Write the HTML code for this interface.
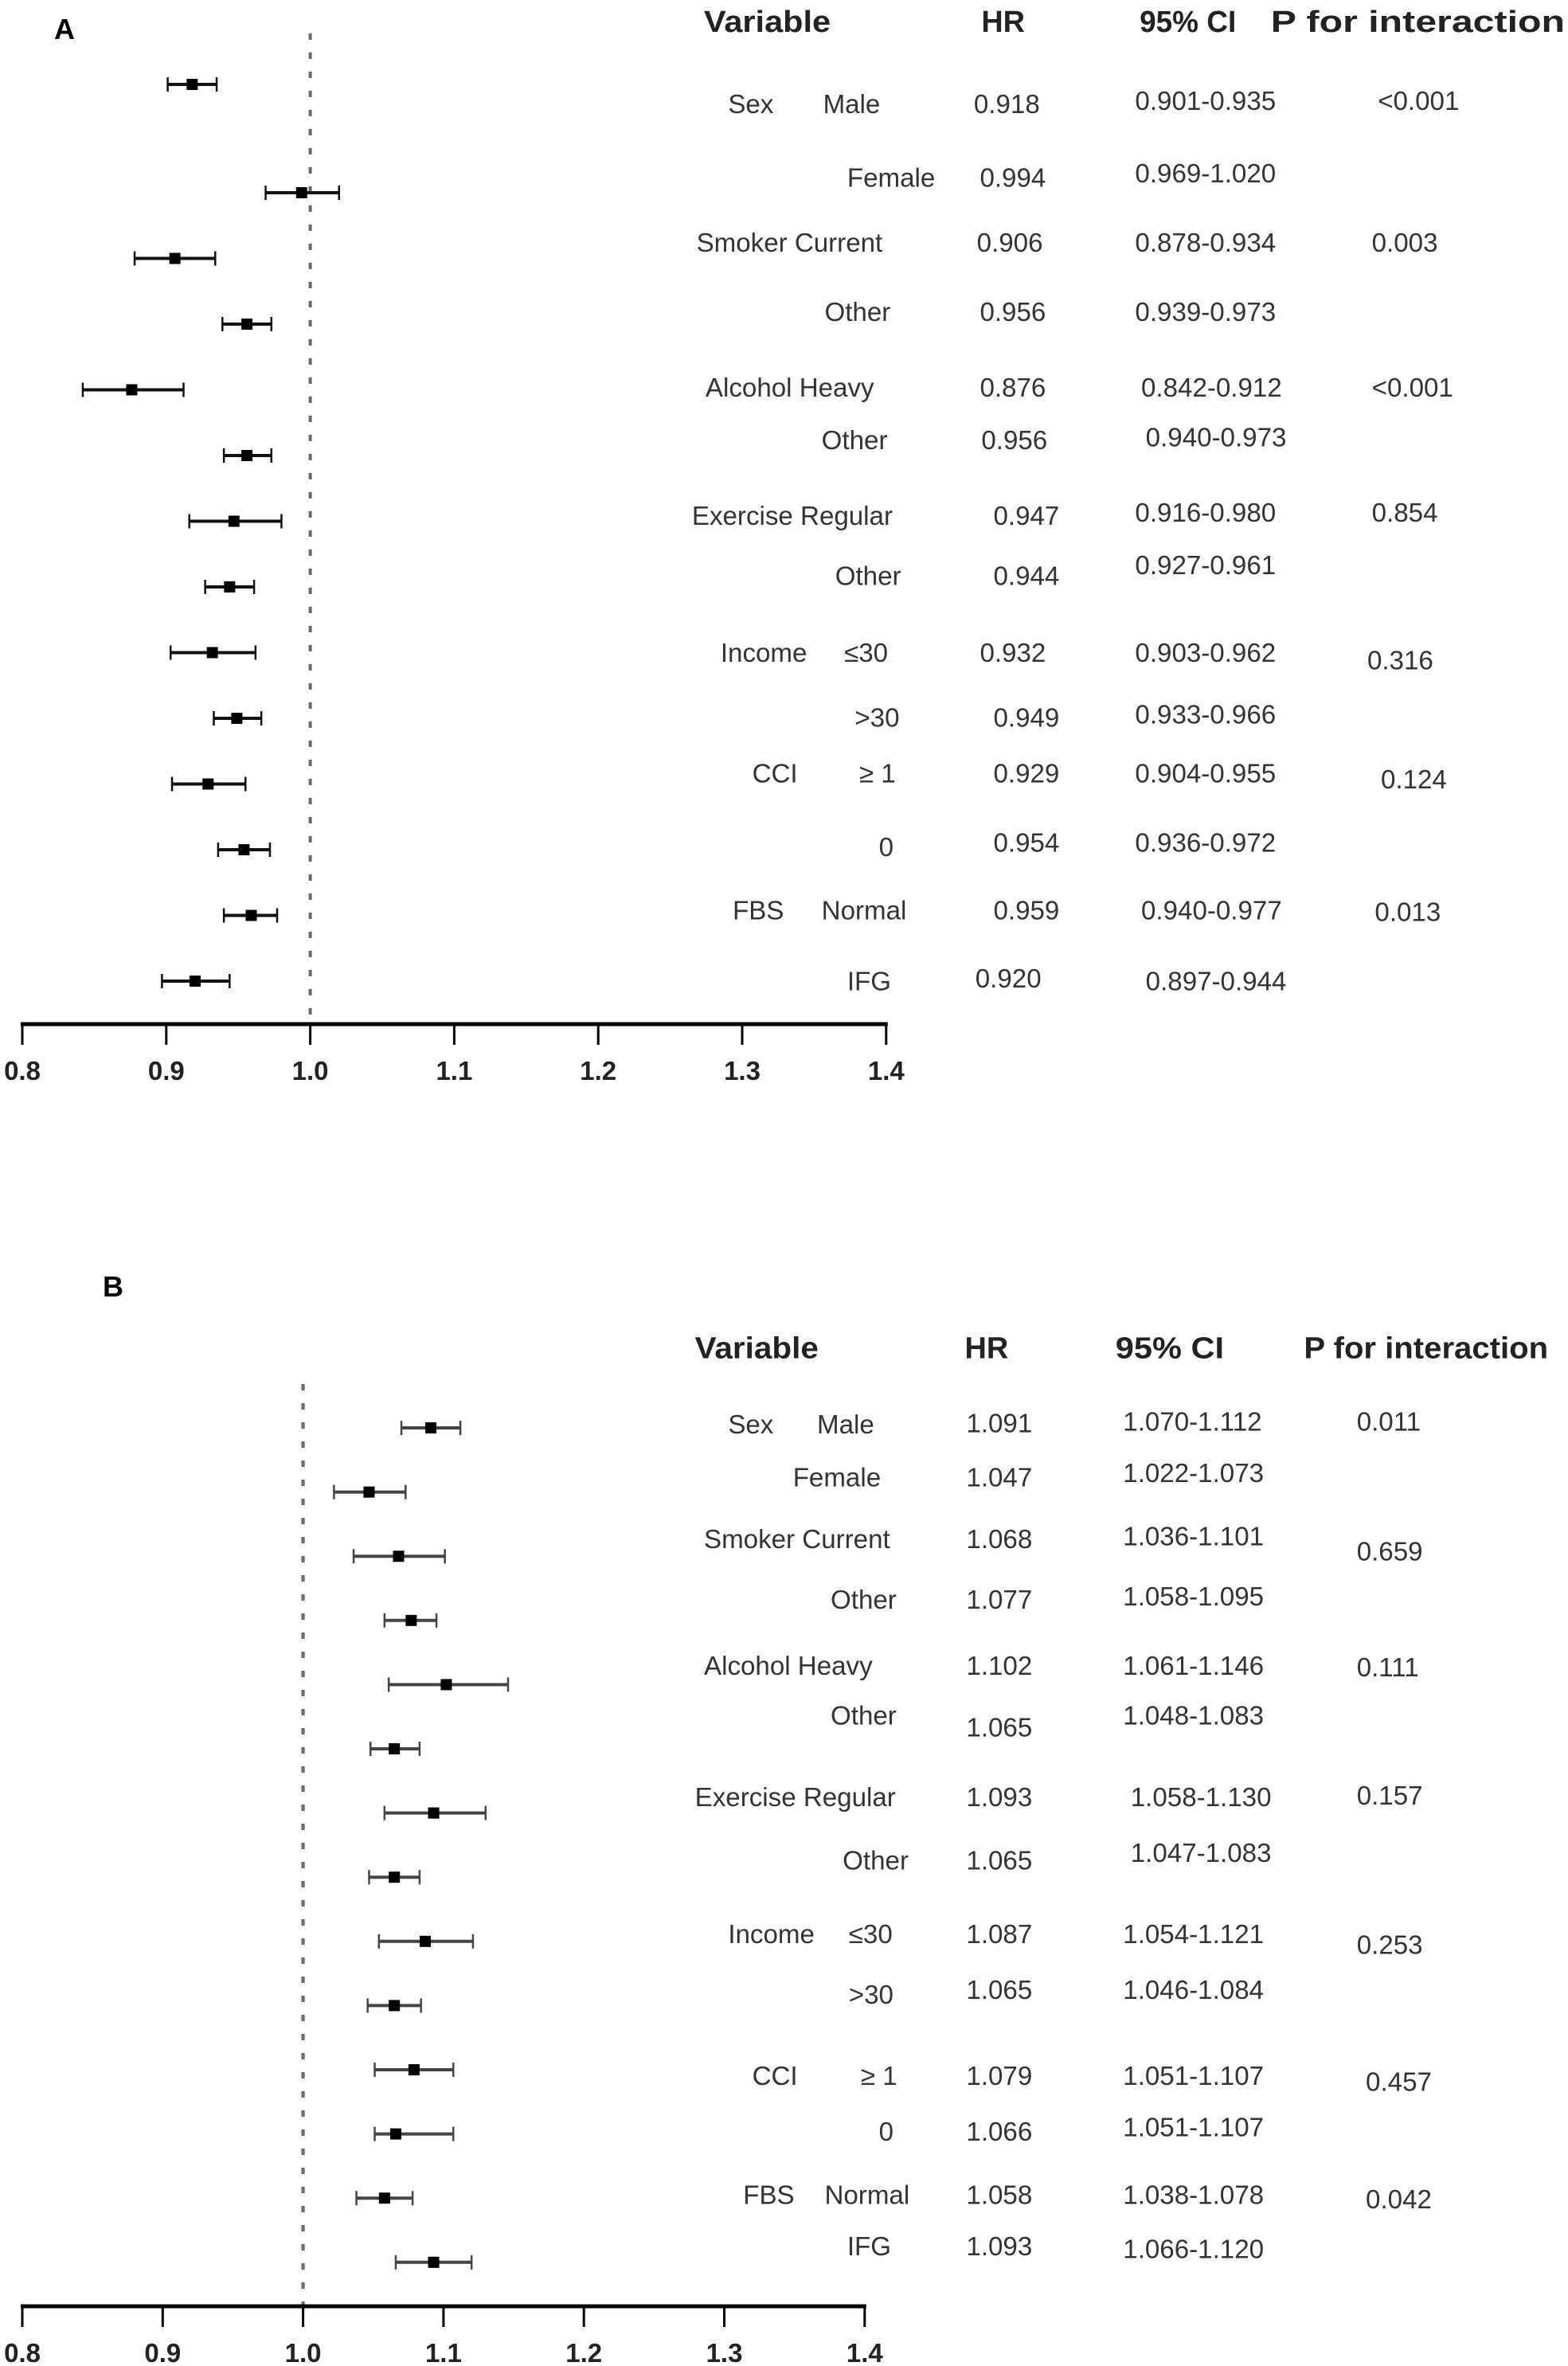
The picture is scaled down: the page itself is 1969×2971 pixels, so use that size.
<!DOCTYPE html>
<html><head><meta charset="utf-8">
<style>
html,body{margin:0;padding:0;background:#fff;}
svg{display:block;}
.h{font-family:"Liberation Sans",sans-serif;font-weight:bold;font-size:20px;fill:#222;}
.t{font-family:"Liberation Sans",sans-serif;font-size:17.5px;fill:#333;}
.tick{font-family:"Liberation Sans",sans-serif;font-weight:bold;font-size:33px;fill:#222;}
.pl{font-family:"Liberation Sans",sans-serif;font-weight:bold;font-size:36px;fill:#000;}
</style></head>
<body>
<svg id="fig" width="1969" height="2971" viewBox="0 0 1969 2971" xmlns="http://www.w3.org/2000/svg">
<text class="pl" x="68" y="49">A</text>
<text class="pl" x="129" y="1628">B</text>
<g transform="scale(1.893)">
<text class="h" x="467" y="21" textLength="84" lengthAdjust="spacingAndGlyphs">Variable</text>
<text class="h" x="651" y="21">HR</text>
<text class="h" x="756" y="21" textLength="64" lengthAdjust="spacingAndGlyphs">95% CI</text>
<text class="h" x="843" y="21" textLength="195" lengthAdjust="spacingAndGlyphs">P for interaction</text>
<g>
<text class="t" x="483" y="75">Sex</text><text class="t" x="546" y="75">Male</text><text class="t" x="646" y="75">0.918</text><text class="t" x="753" y="73">0.901-0.935</text><text class="t" x="914" y="73">&lt;0.001</text>
<text class="t" x="562" y="124">Female</text><text class="t" x="650" y="124">0.994</text><text class="t" x="753" y="121">0.969-1.020</text>
<text class="t" x="462" y="167">Smoker Current</text><text class="t" x="648" y="167">0.906</text><text class="t" x="753" y="167">0.878-0.934</text><text class="t" x="910" y="167">0.003</text>
<text class="t" x="547" y="213">Other</text><text class="t" x="650" y="213">0.956</text><text class="t" x="753" y="213">0.939-0.973</text>
<text class="t" x="468" y="263">Alcohol Heavy</text><text class="t" x="650" y="263">0.876</text><text class="t" x="757" y="263">0.842-0.912</text><text class="t" x="910" y="263">&lt;0.001</text>
<text class="t" x="545" y="298">Other</text><text class="t" x="651" y="298">0.956</text><text class="t" x="760" y="296">0.940-0.973</text>
<text class="t" x="459" y="348">Exercise Regular</text><text class="t" x="659" y="348">0.947</text><text class="t" x="753" y="346">0.916-0.980</text><text class="t" x="910" y="346">0.854</text>
<text class="t" x="554" y="388">Other</text><text class="t" x="659" y="388">0.944</text><text class="t" x="753" y="381">0.927-0.961</text>
<text class="t" x="478" y="439">Income</text><text class="t" x="560" y="439">≤30</text><text class="t" x="650" y="439">0.932</text><text class="t" x="753" y="439">0.903-0.962</text><text class="t" x="907" y="444">0.316</text>
<text class="t" x="567" y="482">&gt;30</text><text class="t" x="659" y="482">0.949</text><text class="t" x="753" y="480">0.933-0.966</text>
<text class="t" x="499" y="519">CCI</text><text class="t" x="570" y="519">≥ 1</text><text class="t" x="659" y="519">0.929</text><text class="t" x="753" y="519">0.904-0.955</text><text class="t" x="916" y="523">0.124</text>
<text class="t" x="583" y="568">0</text><text class="t" x="659" y="565">0.954</text><text class="t" x="753" y="565">0.936-0.972</text>
<text class="t" x="486" y="610">FBS</text><text class="t" x="545" y="610">Normal</text><text class="t" x="659" y="610">0.959</text><text class="t" x="757" y="610">0.940-0.977</text><text class="t" x="912" y="611">0.013</text>
<text class="t" x="562" y="657">IFG</text><text class="t" x="647" y="655">0.920</text><text class="t" x="760" y="657">0.897-0.944</text>
</g>
</g>
<g transform="scale(1.893)">
<text class="h" x="461" y="901" textLength="82" lengthAdjust="spacingAndGlyphs">Variable</text>
<text class="h" x="640" y="901">HR</text>
<text class="h" x="740" y="901" textLength="72" lengthAdjust="spacingAndGlyphs">95% CI</text>
<text class="h" x="865" y="901" textLength="162" lengthAdjust="spacingAndGlyphs">P for interaction</text>
<g>
<text class="t" x="483" y="951">Sex</text><text class="t" x="542" y="951">Male</text><text class="t" x="641" y="950">1.091</text><text class="t" x="745" y="949">1.070-1.112</text><text class="t" x="900" y="949">0.011</text>
<text class="t" x="526" y="986">Female</text><text class="t" x="641" y="986">1.047</text><text class="t" x="745" y="983">1.022-1.073</text>
<text class="t" x="467" y="1027">Smoker Current</text><text class="t" x="641" y="1027">1.068</text><text class="t" x="745" y="1025">1.036-1.101</text><text class="t" x="900" y="1035">0.659</text>
<text class="t" x="551" y="1067">Other</text><text class="t" x="641" y="1067">1.077</text><text class="t" x="745" y="1065">1.058-1.095</text>
<text class="t" x="467" y="1111">Alcohol Heavy</text><text class="t" x="641" y="1111">1.102</text><text class="t" x="745" y="1111">1.061-1.146</text><text class="t" x="900" y="1112">0.111</text>
<text class="t" x="551" y="1144">Other</text><text class="t" x="641" y="1152">1.065</text><text class="t" x="745" y="1144">1.048-1.083</text>
<text class="t" x="461" y="1198">Exercise Regular</text><text class="t" x="641" y="1198">1.093</text><text class="t" x="750" y="1198">1.058-1.130</text><text class="t" x="900" y="1197">0.157</text>
<text class="t" x="559" y="1240">Other</text><text class="t" x="641" y="1240">1.065</text><text class="t" x="750" y="1235">1.047-1.083</text>
<text class="t" x="483" y="1289">Income</text><text class="t" x="563" y="1289">≤30</text><text class="t" x="641" y="1289">1.087</text><text class="t" x="745" y="1289">1.054-1.121</text><text class="t" x="900" y="1296">0.253</text>
<text class="t" x="563" y="1329">&gt;30</text><text class="t" x="641" y="1326">1.065</text><text class="t" x="745" y="1326">1.046-1.084</text>
<text class="t" x="499" y="1383">CCI</text><text class="t" x="571" y="1383">≥ 1</text><text class="t" x="641" y="1383">1.079</text><text class="t" x="745" y="1383">1.051-1.107</text><text class="t" x="906" y="1387">0.457</text>
<text class="t" x="583" y="1420">0</text><text class="t" x="641" y="1420">1.066</text><text class="t" x="745" y="1417">1.051-1.107</text>
<text class="t" x="493" y="1462">FBS</text><text class="t" x="547" y="1462">Normal</text><text class="t" x="641" y="1462">1.058</text><text class="t" x="745" y="1462">1.038-1.078</text><text class="t" x="906" y="1465">0.042</text>
<text class="t" x="562" y="1496">IFG</text><text class="t" x="641" y="1496">1.093</text><text class="t" x="745" y="1498">1.066-1.120</text>
</g>
</g>
<g id="plotA"></g>
<g id="plotB"></g>
</svg>
<script>
const rowLabels = ["Male","Female","Smoker current","Smoker other","Alcohol heavy","Alcohol other","Exercise regular","Exercise other","Income <=30","Income >30","CCI >=1","CCI 0","FBS normal","FBS IFG"];
const hrA = [0.918,0.994,0.906,0.956,0.876,0.956,0.947,0.944,0.932,0.949,0.929,0.954,0.959,0.920];
const loA = [0.901,0.969,0.878,0.939,0.842,0.940,0.916,0.927,0.903,0.933,0.904,0.936,0.940,0.897];
const hiA = [0.935,1.020,0.934,0.973,0.912,0.973,0.980,0.961,0.962,0.966,0.955,0.972,0.977,0.944];
const hrB = [1.091,1.047,1.068,1.077,1.102,1.065,1.093,1.065,1.087,1.065,1.079,1.066,1.058,1.093];
const loB = [1.070,1.022,1.036,1.058,1.061,1.048,1.058,1.047,1.054,1.046,1.051,1.051,1.038,1.066];
const hiB = [1.112,1.073,1.101,1.095,1.146,1.083,1.130,1.083,1.121,1.084,1.107,1.107,1.078,1.120];
const tickValues = [0.8,0.9,1.0,1.1,1.2,1.3,1.4];
const tickLabels = ["0.8","0.9","1.0","1.1","1.2","1.3","1.4"];

const NS = "http://www.w3.org/2000/svg";
function mk(parent, tag, attrs){
  const e = document.createElementNS(NS, tag);
  for (const k in attrs) e.setAttribute(k, attrs[k]);
  parent.appendChild(e);
  return e;
}
function drawPanel(g, cfg, hr, lo, hi, tag){
  const x = v => cfg.x0 + (v - 0.8) * cfg.k;
  const ref = mk(g, "line", {x1:x(1), x2:x(1), y1:cfg.refTop, y2:cfg.axisY, stroke:"#666", "stroke-width":4, "stroke-dasharray":"8 16"});
  
  
  const ax = mk(g, "line", {x1:x(0.8)-2, x2:x(1.4)+2, y1:cfg.axisY, y2:cfg.axisY, stroke:"#000", "stroke-width":5});
  
  
  tickValues.forEach((v, i) => {
    const t = mk(g, "line", {x1:x(v), x2:x(v), y1:cfg.axisY, y2:cfg.axisY + 26, stroke:"#000", "stroke-width":3});
    
    
    const lb = mk(g, "text", {x:x(v), y:cfg.axisY + 70, "text-anchor":"middle", class:"tick"});
    lb.textContent = tickLabels[i];
    
    
  });
  hr.forEach((v, i) => {
    const y = cfg.y(i);
    const grp = mk(g, "g", {});
    
    
    mk(grp, "line", {x1:x(lo[i]), x2:x(hi[i]), y1:y, y2:y, stroke:cfg.col, "stroke-width":4});
    mk(grp, "line", {x1:x(lo[i]), x2:x(lo[i]), y1:y-9, y2:y+9, stroke:cfg.col, "stroke-width":2.5});
    mk(grp, "line", {x1:x(hi[i]), x2:x(hi[i]), y1:y-9, y2:y+9, stroke:cfg.col, "stroke-width":2.5});
    mk(grp, "rect", {x:x(v)-7, y:y-7, width:14, height:14, fill:"#000"});
  });
}
drawPanel(document.getElementById("plotA"),
  {x0:28, k:1808, axisY:1286, refTop:42, col:"#111", y: i => i === 0 ? 106 : 242 + (i - 1) * 82.5},
  hrA, loA, hiA, "a");
drawPanel(document.getElementById("plotB"),
  {x0:28, k:1763, axisY:2896, refTop:1738, col:"#444", y: i => 1793 + i * 80.6},
  hrB, loB, hiB, "b");
</script>
</body></html>
